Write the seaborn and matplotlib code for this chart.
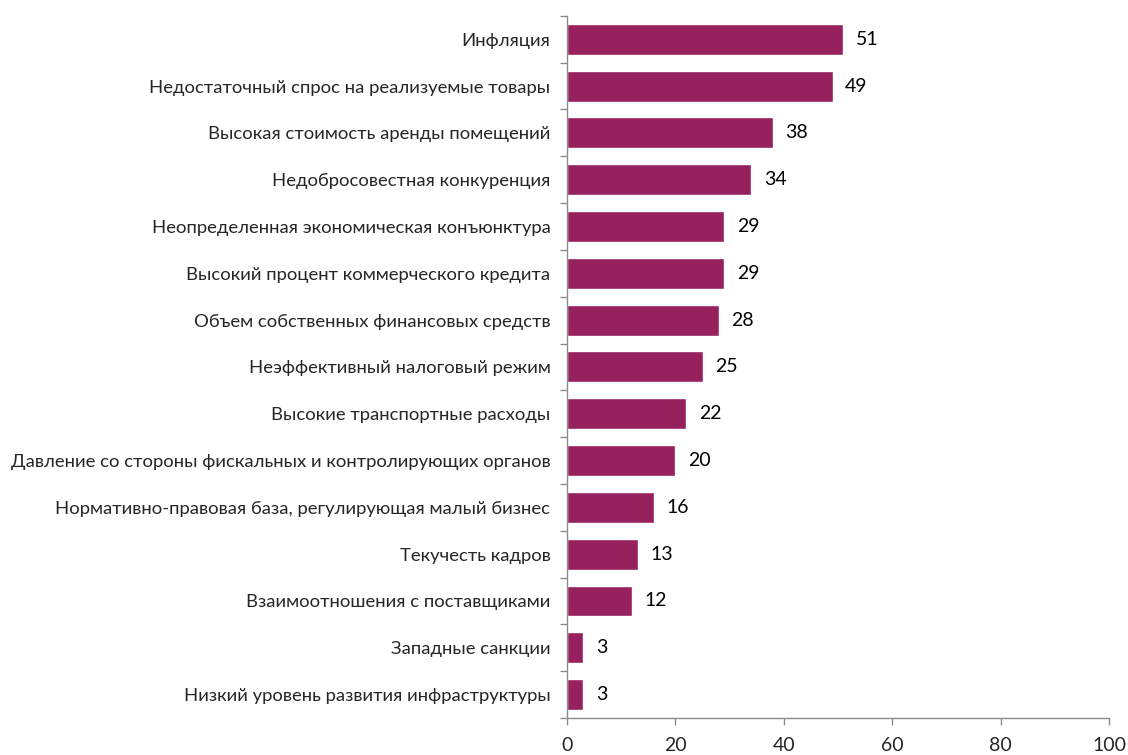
import matplotlib
matplotlib.use("Agg")
import matplotlib.pyplot as plt
import seaborn as sns
import pandas as pd
import numpy as np
from matplotlib.ticker import FixedLocator

categories = [
    "Инфляция",
    "Недостаточный спрос на реализуемые товары",
    "Высокая стоимость аренды помещений",
    "Недобросовестная конкуренция",
    "Неопределенная экономическая конъюнктура",
    "Высокий процент коммерческого кредита",
    "Объем собственных финансовых средств",
    "Неэффективный налоговый режим",
    "Высокие транспортные расходы",
    "Давление со стороны фискальных и контролирующих органов",
    "Нормативно-правовая база, регулирующая малый бизнес",
    "Текучесть кадров",
    "Взаимоотношения с поставщиками",
    "Западные санкции",
    "Низкий уровень развития инфраструктуры",
]
values = [51, 49, 38, 34, 29, 29, 28, 25, 22, 20, 16, 13, 12, 3, 3]
x_ticks = [0, 20, 40, 60, 80, 100]

sns.set_theme(style="white")
plt.rcParams["font.family"] = ["Lato", "DejaVu Sans"]

df = pd.DataFrame({"cat": categories, "val": values})

fig = plt.figure(figsize=(11.28, 7.55), dpi=100)
ax = fig.add_axes([0.5027, 0.049, 0.4805, 0.930])

bar_color = "#97205E"
sns.barplot(data=df, x="val", y="cat", color=bar_color, width=0.66,
            saturation=1, ax=ax, orient="h")

for c in ax.containers:
    ax.bar_label(c, labels=[str(v) for v in values], padding=9,
                 fontsize=14, color="#000000")

ax.set_xlim(0, 100)
ax.set_ylim(len(categories) - 0.5, -0.5)
ax.set_xlabel("")
ax.set_ylabel("")

axis_color = "#8C8C8C"
for side in ["top", "right"]:
    ax.spines[side].set_visible(False)
for side in ["left", "bottom"]:
    ax.spines[side].set_visible(True)
    ax.spines[side].set_color(axis_color)
    ax.spines[side].set_linewidth(1.0)

ax.set_xticks(x_ticks)
ax.set_xticklabels([str(t) for t in x_ticks], fontsize=14)
ax.tick_params(axis="x", which="major", direction="out", length=5,
               color=axis_color, width=1, pad=9, bottom=True)

ax.set_yticks(range(len(categories)))
ax.set_yticklabels(categories, fontsize=13.3)
ax.tick_params(axis="y", which="major", length=0, pad=12)
ax.yaxis.set_minor_locator(FixedLocator(np.arange(-0.5, len(categories), 1.0)))
ax.tick_params(axis="y", which="minor", direction="out", length=5,
               color=axis_color, width=1, left=True)

fig.savefig("out.png", dpi=100)
